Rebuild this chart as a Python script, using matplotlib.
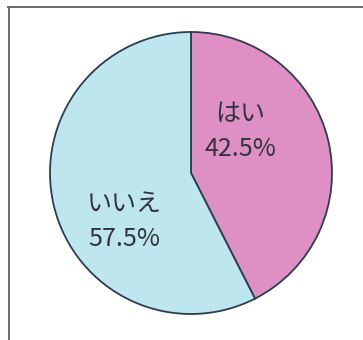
import matplotlib.pyplot as plt
from matplotlib.lines import Line2D

plt.rcParams['font.family'] = ['Noto Sans CJK JP', 'DejaVu Sans']

labels = ['はい', 'いいえ']
shares = [42.5, 57.5]
colors = ['#de8fc4', '#bde6ee']

fig = plt.figure(figsize=(3.63, 3.40), dpi=100)
W, H = 363, 340

# frame (top and left lines only)
fig.add_artist(Line2D([8 / W, 1], [1 - 6.5 / H, 1 - 6.5 / H], color='#6a6a6a', lw=1.4))
fig.add_artist(Line2D([8.5 / W, 8.5 / W], [0, 1 - 6.5 / H], color='#6a6a6a', lw=1.4))

cx, cy, r = 191, 173, 141
ax = fig.add_axes([(cx - r) / W, 1 - (cy + r) / H, 2 * r / W, 2 * r / H])
wedges, _ = ax.pie(shares, colors=colors, startangle=90, counterclock=False,
                   wedgeprops={'edgecolor': '#2c3d52', 'linewidth': 1.3})
ax.set_xlim(-1.0, 1.0)
ax.set_ylim(-1.0, 1.0)
ax.axis('off')

# label positions in pixel coords of the picture
pos = [(240, 132), (124, 221)]
for (lx, ly), lab, v in zip(pos, labels, shares):
    x = (lx - cx) / r
    y = (cy - ly) / r
    ax.text(x, y, f'{lab}\n{v}%', ha='center', va='center', fontsize=18,
            color='#333340', linespacing=1.45)

fig.savefig('out.png', dpi=100)
